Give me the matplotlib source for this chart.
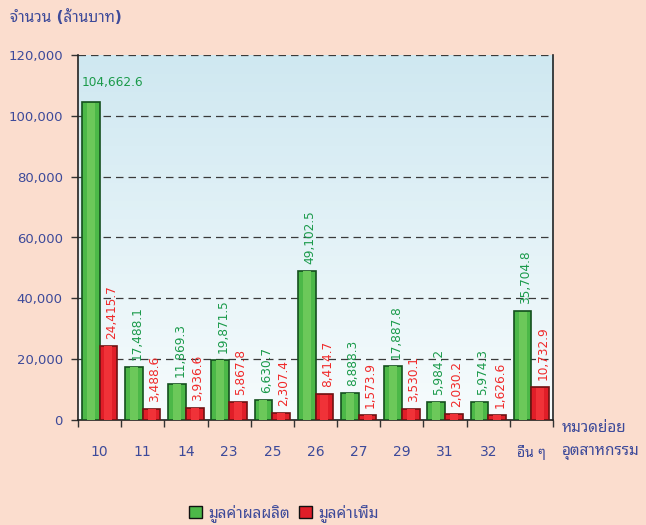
import numpy as np
import matplotlib
matplotlib.use("Agg")
import matplotlib.pyplot as plt
from matplotlib.patches import Patch

plt.rcParams['font.family'] = ['DejaVu Sans', 'Noto Sans Thai Looped']

# data
categories = ['10', '11', '14', '23', '25', '26', '27', '29', '31', '32', 'อื่น ๆ']
output_value = [104662.6, 17488.1, 11869.3, 19871.5, 6630.7, 49102.5,
                8888.3, 17887.8, 5984.2, 5974.3, 35704.8]
added_value = [24415.7, 3488.6, 3936.6, 5867.8, 2307.4, 8414.7,
               1573.9, 3530.1, 2030.2, 1626.6, 10732.9]
y_ticks = [0, 20000, 40000, 60000, 80000, 100000, 120000]

blue_text = '#3D4A9A'
green = '#4CB848'
green_light = '#6CC85A'
green_edge = '#14501E'
green_text = '#1A9A4A'
red = '#E01E28'
red_light = '#F03238'
red_edge = '#6E1212'
red_text = '#F02A2A'
bg = '#FBDDCE'

fig = plt.figure(figsize=(6.46, 5.25), dpi=100, facecolor=bg)
ax = fig.add_axes([78 / 646, 1 - 420 / 525, 475 / 646, 365 / 525])

# light blue gradient behind the bars
grad = np.linspace(0, 1, 256).reshape(-1, 1)
cmap = matplotlib.colors.LinearSegmentedColormap.from_list('bg', ['#CFE8F1', '#F7FCFD'])
ax.imshow(grad, extent=[0, 1, 0, 1], transform=ax.transAxes, aspect='auto',
          cmap=cmap, origin='upper', zorder=0)

x = np.arange(len(categories))
w = 0.41
ax.bar(x - w / 2, output_value, w, color=green, edgecolor=green_edge, linewidth=1.2, zorder=3)
ax.bar(x + w / 2, added_value, w, color=red, edgecolor=red_edge, linewidth=1.2, zorder=3)
# lighter middle strip to hint at the rounded look
ax.bar(x - w / 2, np.array(output_value) * 0.995, w * 0.45, color=green_light, linewidth=0, zorder=3.5)
ax.bar(x + w / 2, np.array(added_value) * 0.99, w * 0.45, color=red_light, linewidth=0, zorder=3.5)

# value labels
for i in range(len(categories)):
    if i == 0:
        ax.annotate(f"{output_value[i]:,.1f}", (x[i] - w, output_value[i]),
                    xytext=(0, 9), textcoords='offset points', ha='left', va='bottom',
                    color=green_text, fontsize=8.7, zorder=4)
    else:
        ax.annotate(f"{output_value[i]:,.1f}", (x[i] - w / 2, output_value[i]),
                    xytext=(2, 5), textcoords='offset points', ha='center', va='bottom',
                    rotation=90, color=green_text, fontsize=8.7, zorder=4)
    ax.annotate(f"{added_value[i]:,.1f}", (x[i] + w / 2, added_value[i]),
                xytext=(2, 5), textcoords='offset points', ha='center', va='bottom',
                rotation=90, color=red_text, fontsize=8.7, zorder=4)

ax.set_xlim(-0.5, len(categories) - 0.5)
ax.set_ylim(0, 120000)
ax.set_yticks(y_ticks)
ax.set_yticklabels([f"{t:,}" for t in y_ticks])
ax.yaxis.grid(True, linestyle=(0, (6, 4)), color='#3A3A3A', linewidth=0.9)
ax.set_axisbelow(True)

ax.set_xticks(x)
ax.set_xticklabels(categories)
ax.set_xticks(np.arange(len(categories) + 1) - 0.5, minor=True)
ax.tick_params(axis='x', which='major', length=0, pad=18, labelsize=10, labelcolor=blue_text)
ax.tick_params(axis='x', which='minor', length=5, width=1, color='#333333', direction='out')
ax.tick_params(axis='y', length=5, width=1, color='#333333', pad=6, labelsize=9.5,
               labelcolor=blue_text)

ax.spines['top'].set_visible(False)
for s in ['left', 'right', 'bottom']:
    ax.spines[s].set_color('#222222')
    ax.spines[s].set_linewidth(1.2)

fig.text(10 / 646, 1 - 17 / 525, 'จำนวน (ล้านบาท)', color=blue_text, fontsize=11,
         fontweight='bold', va='center', ha='left')
fig.text(562 / 646, 1 - 428 / 525, 'หมวดย่อย', color=blue_text, fontsize=11,
         fontweight='bold', va='center', ha='left')
fig.text(562 / 646, 1 - 452 / 525, 'อุตสาหกรรม', color=blue_text, fontsize=11,
         fontweight='bold', va='center', ha='left')

handles = [Patch(facecolor=green, edgecolor='#111111', label='มูลค่าผลผลิต'),
           Patch(facecolor=red, edgecolor='#111111', label='มูลค่าเพิ่ม')]
leg = fig.legend(handles=handles, loc='center', bbox_to_anchor=(284 / 646, 1 - 513 / 525),
                 ncol=2, frameon=False, fontsize=11, handlelength=0.85, handleheight=0.85,
                 columnspacing=0.6, handletextpad=0.4, borderpad=0)
for t in leg.get_texts():
    t.set_color(blue_text)
    t.set_fontweight('bold')

fig.savefig('out.png', dpi=100, facecolor=bg)
